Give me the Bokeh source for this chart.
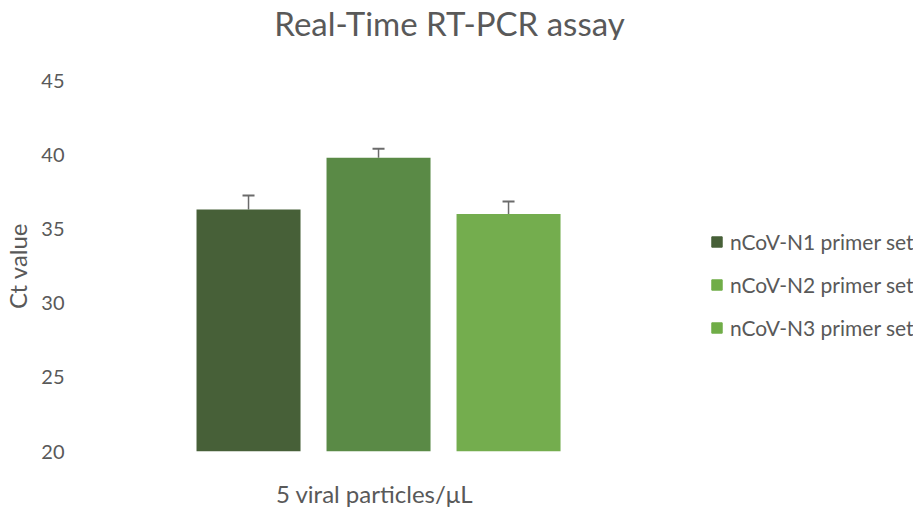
from bokeh.plotting import figure
from bokeh.layouts import row, column
from bokeh.models import (Range1d, FixedTicker, ColumnDataSource, Whisker, TeeHead,
                          Legend, LegendItem, Label)
from bokeh.embed import file_html
from bokeh.resources import INLINE

# ---- data ----
title_text = "Real-Time RT-PCR assay"
series = ["nCoV-N1 primer set", "nCoV-N2 primer set", "nCoV-N3 primer set"]
ct_values = [36.3, 39.8, 36.0]
ct_errors = [0.95, 0.6, 0.85]
bar_colors = ["#476038", "#5A8A46", "#74AD4E"]
legend_colors = ["#476038", "#70AD47", "#70AD47"]
y_ticks = [20, 25, 30, 35, 40, 45]
category_label = "5 viral particles/\u03bcL"

FONT = "Lato"
TXT = "#595959"

xs = list(range(len(series)))
src = ColumnDataSource(dict(
    x=xs, top=ct_values, upper=[v + e for v, e in zip(ct_values, ct_errors)],
    color=bar_colors, name=series))

# ---- title strip ----
tf = figure(width=906, height=40, x_range=Range1d(0, 1), y_range=Range1d(0, 1),
            output_backend="svg", toolbar_location=None,
            min_border_left=0, min_border_right=0, min_border_top=0, min_border_bottom=0)
tf.axis.visible = False
tf.grid.visible = False
tf.outline_line_color = None
tf.title.visible = False
tf.add_layout(Label(x=449, y=18, x_units="screen", y_units="screen", text=title_text,
                    text_align="center", text_baseline="alphabetic", text_font=FONT,
                    text_font_size="33px", text_color=TXT))

# ---- main chart ----
p = figure(frame_width=610, frame_height=371,
           x_range=Range1d(-1.377, 3.315), y_range=Range1d(20, 45),
           output_backend="svg", toolbar_location=None,
           min_border_left=62, min_border_right=0, min_border_top=40, min_border_bottom=51)
p.title.visible = False
p.outline_line_color = None
p.xgrid.visible = False
p.ygrid.visible = False

p.vbar(x="x", top="top", bottom=20, width=0.8, color="color", source=src, line_color=None)

w = Whisker(source=src, base="x", upper="upper", lower="top", line_color="#6B6B6B", line_width=1.5,
            upper_head=TeeHead(size=12, line_color="#6B6B6B", line_width=2), lower_head=None)
p.add_layout(w)

p.xaxis.ticker = FixedTicker(ticks=[])
p.xaxis.axis_line_color = None
p.xaxis.major_tick_line_color = None
p.xaxis.minor_tick_line_color = None
p.xaxis.axis_label = category_label
p.xaxis.axis_label_text_font = FONT
p.xaxis.axis_label_text_font_size = "24px"
p.xaxis.axis_label_text_font_style = "normal"
p.xaxis.axis_label_text_color = TXT
p.xaxis.axis_label_standoff = 27

p.yaxis.ticker = FixedTicker(ticks=y_ticks)
p.yaxis.axis_line_color = None
p.yaxis.major_tick_line_color = None
p.yaxis.minor_tick_line_color = None
p.yaxis.major_tick_out = 0
p.yaxis.major_label_text_font = FONT
p.yaxis.major_label_text_font_size = "20px"
p.yaxis.major_label_text_color = TXT
p.yaxis.major_label_standoff = 5
p.yaxis.axis_label = "Ct value"
p.yaxis.axis_label_text_font = FONT
p.yaxis.axis_label_text_font_size = "24px"
p.yaxis.axis_label_text_font_style = "normal"
p.yaxis.axis_label_text_color = TXT
p.yaxis.axis_label_standoff = 6

# ---- legend panel (swatches as in the reference) ----
lg = figure(frame_width=234, frame_height=371, x_range=Range1d(0, 1), y_range=Range1d(0, 1),
            output_backend="svg", toolbar_location=None,
            min_border_left=0, min_border_right=0, min_border_top=40, min_border_bottom=51)
lg.axis.visible = False
lg.grid.visible = False
lg.outline_line_color = None
lg.title.visible = False
items = []
for name, c in zip(series, legend_colors):
    r = lg.rect(x=[float("nan")], y=[float("nan")], width=1, height=1, color=c)
    items.append(LegendItem(label=name, renderers=[r]))
legend = Legend(items=items, location=(31, 111), border_line_color=None,
                background_fill_alpha=0, label_text_font=FONT, label_text_font_size="21px",
                label_text_color=TXT, glyph_width=13, glyph_height=13, label_height=25,
                label_standoff=7, spacing=18, padding=0, margin=0)
lg.add_layout(legend, "center")

layout = column(tf, row(p, lg, spacing=0), spacing=0)
open("out.html", "w").write(file_html(layout, INLINE))
